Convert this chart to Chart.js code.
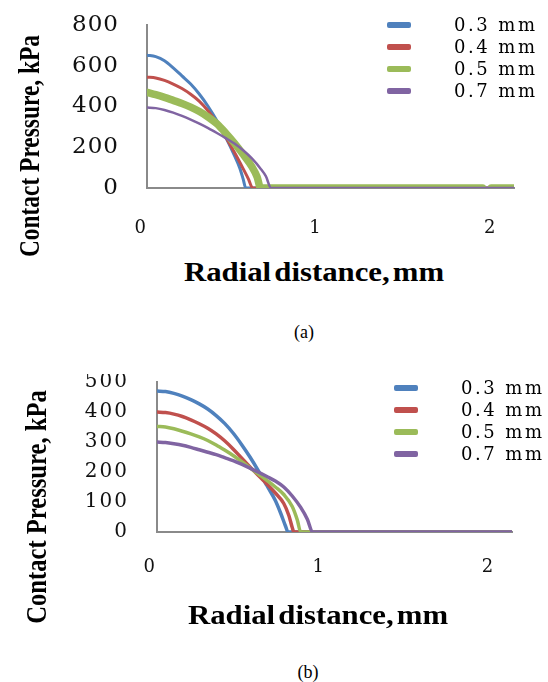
<!DOCTYPE html>
<html>
<head>
<meta charset="utf-8">
<script src="https://cdn.jsdelivr.net/npm/chart.js@4"></script>
<style>
  body { margin: 0; background: #fff; width: 548px; height: 682px; position: relative; overflow: hidden; font-family: "Liberation Serif", serif; color: #000; }
  canvas { position: absolute; left: 0; }
  #chartA { top: 0; }
  #chartB { top: 374px; }
  .pin { position: absolute; width: 0; height: 0; }
  .pin span { position: absolute; left: 0; top: 0; white-space: nowrap; }
  .ytitle span { font-weight: bold; font-size: 30px; transform: translate(-50%, -50%) rotate(-90deg) scaleX(0.78); }
  .xtitle span { font-weight: bold; font-size: 27px; word-spacing: -4px; transform: translate(-50%, -50%) scaleX(1.14); }
  .cap span { font-size: 18px; transform: translate(-50%, -50%); }
  .legend { position: absolute; }
  .legend .row { position: absolute; left: 0; height: 0; }
  .legend .sw { position: absolute; left: 0; top: -3px; width: 24px; height: 6px; border-radius: 2px; }
  .legend .txt { position: absolute; top: -12px; font-family: "DejaVu Serif", serif; font-size: 18px; letter-spacing: 2.5px; line-height: 24px; white-space: nowrap; }
</style>
</head>
<body>
<canvas id="chartA" width="548" height="250"></canvas>
<canvas id="chartB" width="548" height="229"></canvas>

<div class="pin ytitle" style="left:29px;top:146px"><span>Contact Pressure, kPa</span></div>
<div class="pin ytitle" style="left:36px;top:507px"><span style="transform:translate(-50%,-50%) rotate(-90deg) scaleX(0.82)">Contact Pressure, kPa</span></div>
<div class="pin xtitle" style="left:314px;top:272px"><span>Radial distance, mm</span></div>
<div class="pin xtitle" style="left:318px;top:615px"><span>Radial distance, mm</span></div>
<div class="pin cap" style="left:304px;top:332px"><span>(a)</span></div>
<div class="pin cap" style="left:308px;top:672px"><span>(b)</span></div>

<div class="legend" id="legendA" style="left:387px;top:25px"></div>
<div class="legend" id="legendB" style="left:394px;top:388px"></div>

<script>
// ── Series ──
const seriesLabels = ['0.3 mm', '0.4 mm', '0.5 mm', '0.7 mm'];
const seriesColors = ['#4F81BD', '#C0504D', '#9BBB59', '#8064A2'];

// ── Chart (a) : radial distance (mm) / contact pressure (kPa) ──
const rA03 = [0, 0.05, 0.1, 0.15, 0.2, 0.25, 0.3, 0.35, 0.4, 0.45, 0.5, 0.53, 0.55, 0.565, 2.1];
const pA03 = [652, 645, 625, 590, 550, 510, 460, 400, 330, 250, 160, 100, 45, 0, 0];
const rA04 = [0, 0.05, 0.1, 0.15, 0.2, 0.25, 0.3, 0.35, 0.4, 0.45, 0.5, 0.55, 0.58, 0.605, 2.1];
const pA04 = [544, 540, 528, 510, 488, 460, 425, 378, 320, 250, 175, 95, 45, 0, 0];
const rA05 = [0, 0.05, 0.1, 0.15, 0.2, 0.25, 0.3, 0.35, 0.4, 0.45, 0.5, 0.55, 0.6, 0.63, 0.65, 1.92, 1.945, 1.97, 2.1];
const pA05 = [470, 458, 445, 430, 415, 397, 375, 348, 315, 270, 220, 165, 105, 55, 0, 0, null, 0, 0];
const rA07 = [0, 0.05, 0.1, 0.15, 0.2, 0.25, 0.3, 0.35, 0.4, 0.45, 0.5, 0.55, 0.6, 0.65, 0.68, 0.71, 2.1];
const pA07 = [395, 392, 383, 370, 354, 336, 316, 294, 270, 245, 218, 185, 145, 95, 58, 0, 0];
const xTicksA = [0, 1, 2];
const yTicksA = [0, 200, 400, 600, 800];

// ── Chart (b) ──
const rB03 = [0, 0.05, 0.1, 0.15, 0.2, 0.25, 0.3, 0.35, 0.4, 0.45, 0.5, 0.55, 0.6, 0.65, 0.7, 0.73, 0.76, 0.775, 2.1];
const pB03 = [470, 468, 462, 453, 441, 427, 410, 388, 362, 330, 292, 250, 204, 155, 105, 65, 20, 0, 0];
const rB04 = [0, 0.05, 0.1, 0.15, 0.2, 0.25, 0.3, 0.35, 0.4, 0.45, 0.5, 0.55, 0.6, 0.65, 0.7, 0.75, 0.78, 0.8, 0.81, 2.1];
const pB04 = [400, 398, 393, 385, 374, 361, 346, 327, 304, 277, 247, 217, 188, 160, 130, 95, 55, 15, 0, 0];
const rB05 = [0, 0.05, 0.1, 0.15, 0.2, 0.25, 0.3, 0.35, 0.4, 0.45, 0.5, 0.55, 0.6, 0.65, 0.7, 0.75, 0.8, 0.83, 0.85, 2.1];
const pB05 = [352, 350, 344, 336, 327, 317, 305, 290, 273, 255, 235, 214, 193, 172, 150, 125, 85, 40, 0, 0];
const rB07 = [0, 0.05, 0.1, 0.15, 0.2, 0.25, 0.3, 0.35, 0.4, 0.45, 0.5, 0.55, 0.6, 0.65, 0.7, 0.75, 0.8, 0.85, 0.89, 0.92, 2.1];
const pB07 = [300, 298, 294, 289, 282, 274, 266, 258, 248, 238, 226, 213, 199, 185, 170, 150, 120, 82, 42, 0, 0];
const xTicksB = [0, 1, 2];
const yTicksB = [0, 100, 200, 300, 400, 500];

const AXIS_GRAY = '#8a8a8a';

function pts(xs, ys) {
  return xs.map((x, i) => ({ x, y: ys[i] }));
}

function makeDataset(i, xs, ys, width) {
  return {
    label: seriesLabels[i],
    data: pts(xs, ys),
    borderColor: seriesColors[i],
    backgroundColor: seriesColors[i],
    borderWidth: width,
    borderCapStyle: 'round',
    borderJoinStyle: 'round',
    pointRadius: 0,
    cubicInterpolationMode: 'monotone',
    spanGaps: false,
    // purple on top, then green, red, blue underneath
    order: [3, 2, 1, 0][i]
  };
}

// wide tick digits like the source figure
const letterSpacingPlugin = {
  id: 'letterSpacing',
  beforeDraw(chart, args, opts) { chart.ctx.letterSpacing = (opts.px || 0) + 'px'; },
  afterDraw(chart) { chart.ctx.letterSpacing = '0px'; }
};

function buildChart(canvasId, datasets, cfg) {
  return new Chart(document.getElementById(canvasId), {
    type: 'line',
    data: { datasets },
    plugins: [letterSpacingPlugin],
    options: {
      responsive: false,
      animation: false,
      layout: { padding: { top: cfg.padTop, right: cfg.padRight, left: 0, bottom: 0 } },
      plugins: {
        legend: { display: false },
        tooltip: { enabled: false },
        letterSpacing: { px: cfg.spacing }
      },
      scales: {
        x: {
          type: 'linear',
          min: 0,
          max: 2.1,
          grid: { display: false },
          border: { display: true, color: AXIS_GRAY, width: 2 },
          ticks: {
            padding: cfg.xPad,
            align: 'end',
            color: '#111',
            font: { family: 'DejaVu Serif', size: 18 }
          },
          afterBuildTicks: s => { s.ticks = cfg.xTicks.map(v => ({ value: v })); },
          afterFit: s => { s.height = cfg.xHeight; s.paddingLeft = 0; s.paddingRight = 0; }
        },
        y: {
          min: 0,
          max: cfg.yMax,
          grid: { display: false },
          border: { display: true, color: AXIS_GRAY, width: 2 },
          ticks: {
            padding: cfg.yPad,
            color: '#111',
            font: { family: 'DejaVu Serif', size: cfg.yFont }
          },
          afterBuildTicks: s => { s.ticks = cfg.yTicks.map(v => ({ value: v })); },
          afterFit: s => { s.width = cfg.yWidth; s.paddingTop = 0; s.paddingBottom = 0; }
        }
      }
    }
  });
}

buildChart('chartA', [
  makeDataset(0, rA03, pA03, 3),
  makeDataset(1, rA04, pA04, 3),
  makeDataset(2, rA05, pA05, 7.5),
  makeDataset(3, rA07, pA07, 2.5)
], { padTop: 25, padRight: 34, xHeight: 62, yWidth: 147, yMax: 800, xTicks: xTicksA, yTicks: yTicksA, xPad: 22, yPad: 20, yFont: 23, spacing: 1 });

buildChart('chartB', [
  makeDataset(0, rB03, pB03, 3.5),
  makeDataset(1, rB04, pB04, 3.5),
  makeDataset(2, rB05, pB05, 3.5),
  makeDataset(3, rB07, pB07, 3.5)
], { padTop: 8, padRight: 36, xHeight: 71, yWidth: 157, yMax: 500, xTicks: xTicksB, yTicks: yTicksB, xPad: 17, yPad: 20, yFont: 20, spacing: 2 });

// ── Legends (HTML) ──
function buildLegend(id, rowGap, textLeft) {
  const el = document.getElementById(id);
  seriesLabels.forEach((lab, i) => {
    const row = document.createElement('div');
    row.className = 'row';
    row.style.top = (i * rowGap) + 'px';
    row.innerHTML = `<span class="sw" style="background:${seriesColors[i]}"></span><span class="txt" style="left:${textLeft}px">${lab}</span>`;
    el.appendChild(row);
  });
}
buildLegend('legendA', 22, 67);
buildLegend('legendB', 22, 67);
</script>
</body>
</html>
